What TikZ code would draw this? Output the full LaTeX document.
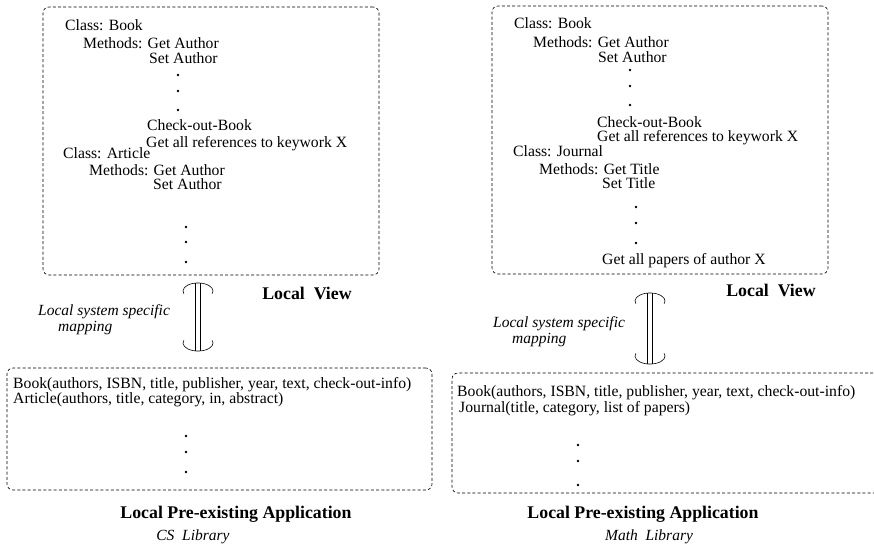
\documentclass[tikz,border=0pt]{standalone}
\usepackage{fontspec}
\setmainfont{Liberation Serif}
\usetikzlibrary{positioning, calc}
\tikzset{
    view box/.style={draw, dash pattern=on 3pt off 2.2pt, rounded corners=6pt, line width=0.6pt, inner sep=0pt},
    line text/.style={anchor=base west, inner sep=0pt, font=\fontsize{15.7}{17}\selectfont},
    head text/.style={anchor=base, inner sep=0pt, font=\fontsize{17.8}{19}\selectfont\bfseries},
    note text/.style={inner sep=0pt, font=\fontsize{15.5}{17}\selectfont\itshape},
    dot/.style={circle, fill, inner sep=0pt, minimum size=2.6pt},
    map line/.style={line width=0.6pt},
}
% #1 = name, #2 = x, #3 = top of upper cap, #4 = bottom of lower cap
\newcommand{\drawmapping}[4]{
    \coordinate (#1T) at (#2,-#3);
    \coordinate (#1B) at (#2,-#4);
    \draw[map line] (#2-14.1,-#3-10.7) arc[start angle=200, end angle=-20, x radius=15, y radius=8];
    \draw[map line] (#2-14.1,-#4+10.7) arc[start angle=160, end angle=380, x radius=15, y radius=8];
    \draw[map line] ([xshift=-2.5pt]#1T) -- ([xshift=-2.5pt]#1B);
    \draw[map line] ([xshift=2.5pt]#1T) -- ([xshift=2.5pt]#1B);
}

\begin{document}
\begin{tikzpicture}[x=1pt, y=1pt]
    \useasboundingbox (0,0) rectangle (874,-547);

    % boxes
    \node[view box, minimum width=336pt, minimum height=268pt] (csview) at (211,-141) {};
    \node[view box, minimum width=336pt, minimum height=268pt] (mathview) at (660,-140) {};
    \node[view box, minimum width=425pt, minimum height=122pt] (csapp) at (219.5,-429) {};
    \node[view box, minimum width=448pt, minimum height=120pt] (mathapp) at (676,-433) {};

    % CS local view
    \node[line text] (cs1) at (65,-30) {Class: Book};
    \node[line text] (cs2) at (83,-48) {Methods: Get Author};
    \node[line text] (cs3) at (149,-63) {Set Author};
    \node[line text] (cs4) at (147,-130) {Check-out-Book};
    \node[line text] (cs5) at (146,-147) {Get all references to keywork X};
    \node[line text] (cs6) at (63,-158) {Class: Article};
    \node[line text] (cs7) at (89,-175) {Methods: Get Author};
    \node[line text] (cs8) at (153,-189) {Set Author};
    \foreach \y [count=\i] in {75, 91, 110} {
        \node[dot] (csa\i) at (178,-\y) {};
    }
    \foreach \y [count=\i] in {227, 242, 262} {
        \node[dot] (csb\i) at (186,-\y) {};
    }

    % Math local view
    \node[line text] (mt1) at (514,-28) {Class: Book};
    \node[line text] (mt2) at (533,-47) {Methods: Get Author};
    \node[line text] (mt3) at (598,-62) {Set Author};
    \node[line text] (mt4) at (597,-127) {Check-out-Book};
    \node[line text] (mt5) at (597,-141) {Get all references to keywork X};
    \node[line text] (mt6) at (513,-156) {Class: Journal};
    \node[line text] (mt7) at (539,-174) {Methods: Get Title};
    \node[line text] (mt8) at (602,-188) {Set Title};
    \node[line text] (mt9) at (602,-264) {Get all papers of author X};
    \foreach \y [count=\i] in {70, 86, 105} {
        \node[dot] (mta\i) at (630,-\y) {};
    }
    \foreach \y [count=\i] in {207, 223, 243} {
        \node[dot] (mtb\i) at (636,-\y) {};
    }

    % mapping
    \node[head text] (csvl) at (307,-299) {Local\ \ View};
    \node[head text] (mtvl) at (771,-296) {Local\ \ View};
    \drawmapping{csmap}{198}{283}{351}
    \drawmapping{mtmap}{650}{293}{364}
    \node[note text, anchor=base west] (csm1) at (38,-315) {Local system specific};
    \node[note text, anchor=base west] (csm2) at (58,-331) {mapping};
    \node[note text, anchor=base west] (mtm1) at (493,-327) {Local system specific};
    \node[note text, anchor=base west] (mtm2) at (512,-343) {mapping};

    % applications
    \node[line text] (ca1) at (13,-388) {Book(authors, ISBN, title, publisher, year, text, check-out-info)};
    \node[line text] (ca2) at (13,-403) {Article(authors, title, category, in, abstract)};
    \foreach \y [count=\i] in {436, 452, 472} {
        \node[dot] (cad\i) at (186,-\y) {};
    }
    \node[line text] (ma1) at (457,-396) {Book(authors, ISBN, title, publisher, year, text, check-out-info)};
    \node[line text] (ma2) at (459,-412) {Journal(title, category, list of papers)};
    \foreach \y [count=\i] in {445, 461, 485} {
        \node[dot] (mad\i) at (578,-\y) {};
    }

    \node[head text] (csapl) at (236,-518) {Local Pre-existing Application};
    \node[note text, anchor=base] (cslib) at (193,-540) {CS\ \ Library};
    \node[head text] (mtapl) at (643,-518) {Local Pre-existing Application};
    \node[note text, anchor=base] (mtlib) at (649,-540) {Math\ \ Library};
\end{tikzpicture}
\end{document}
